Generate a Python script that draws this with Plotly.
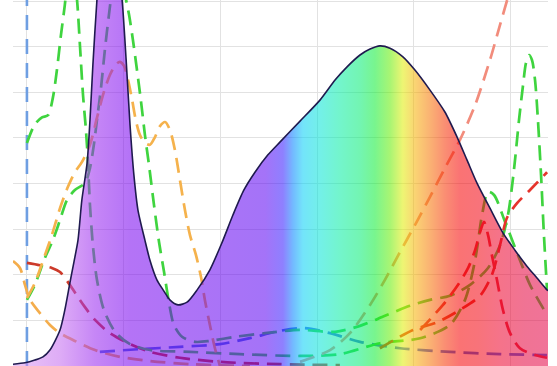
import plotly.graph_objects as go

# ---- lamp emission spectrum (wavelength in nm, relative intensity) ----
spec_nm = [342.8, 349.0, 354.1, 358.3, 361.9, 367.1, 369.6, 372.2, 374.3, 376.4,
           378.4, 381.1, 382.6, 384.1, 386.2, 387.7, 392.9, 396.1, 399.2, 401.3,
           403.3, 405.3, 407.4, 411.0, 413.6, 417.2, 420.4, 423.9, 428.1, 432.8,
           438.0, 444.6, 450.8, 456.5, 462.2, 467.9, 474.6, 480.8, 491.2, 501.5,
           509.3, 515.5, 522.2, 527.4, 532.5, 537.7, 544.4, 550.6, 558.4, 566.1,
           572.4, 577.5, 582.7, 589.4, 596.1, 602.3, 608.5, 613.7, 618.9, 619.4]
spec_val = [0.04, 0.07, 0.13, 0.20, 0.35, 0.79, 1.23, 1.82, 2.28, 2.76,
            3.64, 4.45, 5.39, 6.60, 8.03, 8.79, 9.56, 9.12, 8.03, 6.71,
            5.29, 4.19, 3.42, 2.76, 2.32, 1.89, 1.67, 1.45, 1.34, 1.40,
            1.67, 2.11, 2.70, 3.31, 3.86, 4.25, 4.63, 4.91, 5.37, 5.83,
            6.27, 6.56, 6.82, 6.95, 7.02, 6.97, 6.78, 6.49, 6.05, 5.57,
            5.02, 4.52, 4.01, 3.46, 2.92, 2.54, 2.19, 1.93, 1.67, 1.65]

# ---- absorption / action curves ----
green_a_nm = [350.0, 354.1, 357.8, 360.9, 363.4, 365.5, 367.6, 369.6, 371.2, 372.8,
              374.3, 375.9, 377.4, 379.0, 380.5, 381.5, 382.6, 384.1, 386.2, 389.8,
              395.6, 403.3, 413.6, 434.3, 460.1, 491.2, 511.8, 532.5, 553.3, 568.7,
              576.5, 581.7, 585.3, 588.4, 591.5, 597.2, 603.9, 610.1, 618.9]
green_a_val = [4.89, 5.30, 5.45, 5.50, 5.88, 6.49, 7.26, 7.92, 8.57, 8.90,
               8.57, 8.03, 7.04, 5.94, 5.18, 4.52, 3.53, 2.65, 1.89, 1.23,
               0.75, 0.48, 0.35, 0.31, 0.26, 0.22, 0.26, 0.50, 0.61, 0.90,
               1.45, 2.32, 3.31, 3.82, 3.75, 3.16, 2.43, 1.78, 1.12]

green_b_nm = [350.0, 354.1, 359.3, 363.4, 367.1, 370.7, 374.8, 380.0, 382.6, 384.6,
              386.2, 388.3, 390.3, 392.4, 394.5, 396.6, 398.7, 400.7, 402.8, 404.8,
              406.9, 408.9, 411.0, 413.1, 415.7, 418.3, 420.9, 423.4, 426.0, 430.2,
              436.9, 444.6, 457.6, 473.1, 491.2, 509.3, 522.2, 535.1, 548.0, 558.4,
              568.7, 579.1, 588.4, 594.6, 598.7, 601.8, 604.4, 606.5, 608.0, 609.6,
              611.1, 612.7, 614.2, 615.8, 617.3, 618.9]
green_b_val = [1.45, 1.78, 2.37, 2.76, 3.20, 3.64, 3.86, 4.01, 4.34, 4.85,
               5.39, 6.10, 6.93, 7.70, 8.36, 8.68, 8.51, 8.14, 7.70, 7.15,
               6.49, 5.83, 5.07, 4.41, 3.53, 2.72, 2.06, 1.40, 0.90, 0.64,
               0.53, 0.55, 0.64, 0.72, 0.79, 0.75, 0.88, 1.10, 1.32, 1.45,
               1.54, 1.78, 2.15, 2.65, 3.31, 4.30, 5.39, 6.16, 6.64, 6.82,
               6.71, 6.27, 5.39, 4.19, 2.87, 1.67]

carot_nm = [350.0, 354.1, 359.3, 362.9, 367.1, 371.2, 374.8, 378.4, 382.6, 386.2,
            389.8, 392.9, 396.1, 398.1, 400.2, 402.3, 404.4, 406.3, 408.4, 411.0,
            413.6, 416.2, 418.8, 421.4, 423.9, 426.5, 429.1, 431.7, 434.3, 437.4,
            440.0, 442.0, 444.6, 447.2, 449.8]
carot_val = [1.49, 1.82, 2.43, 2.87, 3.46, 3.93, 4.25, 4.47, 4.85, 5.44,
             6.01, 6.38, 6.62, 6.67, 6.58, 6.27, 5.83, 5.39, 5.07, 4.89,
             4.85, 5.02, 5.26, 5.35, 5.18, 4.74, 4.08, 3.42, 2.87, 2.43,
             1.95, 1.45, 0.90, 0.39, 0.00]

uv_orange_nm = [342.8, 346.4, 349.0, 351.6, 356.7, 361.9, 367.1, 374.8, 385.2, 398.1,
                413.6, 434.3, 465.3]
uv_orange_val = [2.30, 2.15, 1.78, 1.45, 1.16, 0.90, 0.72, 0.55, 0.35, 0.20,
                 0.11, 0.04, 0.00]

uv_red_nm = [350.0, 356.7, 362.9, 367.1, 371.2, 375.3, 380.0, 385.2, 392.9, 403.3,
             413.6, 429.1, 449.8, 480.8, 511.8]
uv_red_val = [2.26, 2.21, 2.15, 2.06, 1.84, 1.58, 1.29, 1.01, 0.72, 0.48,
              0.31, 0.18, 0.09, 0.04, 0.02]

blue_nm = [387.7, 408.4, 429.1, 449.8, 465.3, 480.8, 493.7, 506.7, 522.2, 542.9,
           568.7, 594.6, 618.9]
blue_val = [0.31, 0.37, 0.42, 0.48, 0.61, 0.77, 0.83, 0.72, 0.53, 0.39,
            0.31, 0.26, 0.24]

salmon_nm = [491.2, 506.7, 517.0, 527.4, 535.1, 542.9, 550.6, 558.4, 566.1, 573.9,
             581.7, 589.4, 594.6, 599.8]
salmon_val = [0.09, 0.35, 0.72, 1.34, 1.89, 2.50, 3.09, 3.71, 4.34, 4.96,
              5.72, 6.71, 7.48, 8.25]

red_peak_nm = [553.3, 565.1, 572.9, 578.1, 581.7, 584.3, 586.3, 588.4, 590.4, 593.0,
               596.1, 599.8, 604.9, 612.7, 618.9]
red_peak_val = [0.79, 1.34, 1.78, 2.15, 2.54, 2.94, 3.16, 2.87, 2.43, 1.89,
                1.23, 0.72, 0.39, 0.24, 0.18]

red_rise_nm = [532.5, 549.6, 562.1, 573.9, 584.3, 590.4, 594.6, 598.2, 603.4, 610.1, 618.9]
red_rise_val = [0.39, 0.79, 0.96, 1.23, 1.54, 2.00, 2.65, 3.25, 3.57, 3.86, 4.25]

uv_edge_nm = [350.0, 350.0]
uv_edge_val = [0.0, 8.03]

X_RANGE = [342.8, 619.4]
Y_RANGE = [0, 8.026]

# spectral colour stops for the area under the spectrum (as seen over white)
stop_nm = [342.8, 367.1, 385.2, 403.3, 439.5, 473.1, 482.4, 487.6, 492.7, 501.5,
           511.8, 522.2, 529.9, 537.7, 544.4, 550.6, 558.4, 566.1, 573.9, 583.2,
           594.6, 607.5, 619.4]
stop_rgb = [(236, 200, 246), (222, 172, 246), (198, 134, 246), (180, 112, 246),
            (172, 104, 246), (164, 106, 248), (142, 128, 255), (104, 186, 255),
            (82, 228, 250), (82, 240, 232), (90, 245, 204), (100, 245, 178),
            (120, 245, 142), (168, 245, 112), (238, 245, 100), (250, 212, 96),
            (250, 178, 100), (250, 142, 110), (250, 112, 116), (248, 94, 122),
            (245, 88, 138), (240, 88, 148), (240, 94, 152)]

FILL_ALPHA = 0.55


def translucent(rgb, a=FILL_ALPHA):
    # colour that gives `rgb` when laid over white at opacity a
    ch = [max(0, min(255, round((c - 255 * (1 - a)) / a))) for c in rgb]
    return f"rgba({ch[0]},{ch[1]},{ch[2]},{a})"


span = X_RANGE[1] - X_RANGE[0]
fill_scale = [[(n - X_RANGE[0]) / span, translucent(c)] for n, c in zip(stop_nm, stop_rgb)]
fill_scale[0][0] = 0.0
fill_scale[-1][0] = 1.0

DASH = "15px,8px"
fig = go.Figure()


def dashed(x, y, color, width=2.7, dash=DASH, shape="spline"):
    fig.add_trace(go.Scatter(x=x, y=y, mode="lines", hoverinfo="skip",
                             line=dict(color=color, width=width, dash=dash,
                                       shape=shape, smoothing=0.8)))


dashed(uv_edge_nm, uv_edge_val, "#6f9fe2", width=2.6, dash="15px,9px", shape="linear")
dashed(uv_orange_nm, uv_orange_val, "#f4ad4c")
dashed(uv_red_nm, uv_red_val, "#cc3a2a")
dashed(blue_nm, blue_val, "#4b6fe2")
dashed(green_a_nm, green_a_val, "#3fd43f")
dashed(green_b_nm, green_b_val, "#3fd43f")
dashed(carot_nm, carot_val, "#f5b24c")
dashed(salmon_nm, salmon_val, "#f28c7c")
dashed(red_peak_nm, red_peak_val, "#e8303a")
dashed(red_rise_nm, red_rise_val, "#e6342c")

# the spectrum itself, drawn over the curves with a translucent spectral fill
fig.add_trace(go.Scatter(
    x=spec_nm, y=spec_val, mode="lines", fill="tozeroy", hoverinfo="skip",
    line=dict(color="#1f1a4f", width=1.6, shape="spline", smoothing=0.7),
    fillgradient=dict(type="horizontal", colorscale=fill_scale,
                      start=X_RANGE[0], stop=X_RANGE[1]),
))

axis_common = dict(showticklabels=False, ticks="", showline=False, zeroline=False,
                   showgrid=True, gridcolor="#e2e2e2", gridwidth=1)
fig.update_layout(
    width=557, height=366,
    margin=dict(l=13, r=9, t=0, b=0, pad=0),
    paper_bgcolor="white", plot_bgcolor="white",
    showlegend=False,
    xaxis=dict(range=X_RANGE, tick0=350, dtick=50, **axis_common),
    yaxis=dict(range=Y_RANGE, tick0=0, dtick=1, **axis_common),
)

fig.write_html("out.html")
